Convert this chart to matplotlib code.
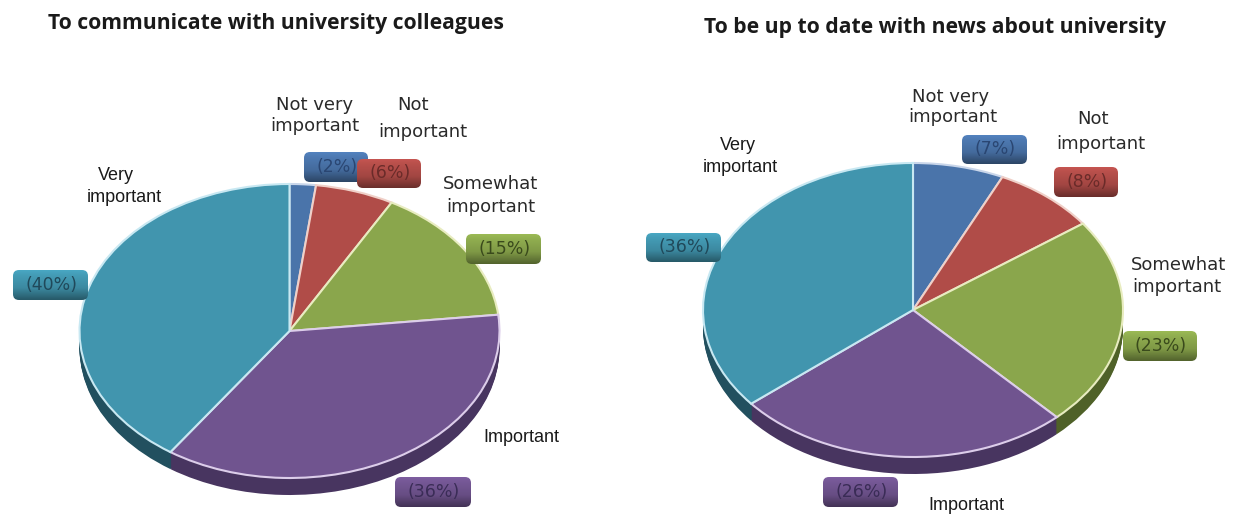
import matplotlib
matplotlib.use("Agg")
import matplotlib.pyplot as plt
import numpy as np
from matplotlib.colors import to_rgb
from matplotlib.patches import FancyBboxPatch

W, H = 1238, 515

# answers share: Not very important, Not important, Somewhat important, Important, Very important
colleagues = [2, 6, 15, 36, 40]
news = [7, 8, 23, 26, 36]
title_left = "To communicate with university colleagues"
title_right = "To be up to date with news about university"

top_colors = ["#4a74aa", "#b04c48", "#8aa64c", "#70548f", "#4195ae"]
rim_colors = ["#2d4a70", "#702e2c", "#4f6128", "#483560", "#22505f"]
edge_colors = ["#c9d6ea", "#f0d0c8", "#e8ecc0", "#dccdea", "#c8e8f2"]
pill_text = ["#2a4672", "#6a2b29", "#3a4a1c", "#3a2c56", "#20495a"]

RX, RY, DEPTH = 210, 147, 17


def px_axes(fig, x0, y0, x1, y1):
    return fig.add_axes([x0 / W, 1 - y1 / H, (x1 - x0) / W, (y1 - y0) / H])


def draw_pie(fig, values, cx, cy):
    ax = px_axes(fig, cx - RX - 2, cy - RY - 2, cx + RX + 2, cy + RY + DEPTH + 2)
    # the side of the disc is the same pie stacked downwards in dark shades
    for step in np.arange(DEPTH, 0, -1.0):
        ax.pie(values, colors=rim_colors, startangle=90, counterclock=False,
               center=(0, -step / RY), radius=1,
               wedgeprops={"linewidth": 0})
    wedges, _ = ax.pie(values, colors=top_colors, startangle=90, counterclock=False,
                       center=(0, 0), radius=1)
    for wedge, edge in zip(wedges, edge_colors):
        wedge.set_edgecolor(edge)
        wedge.set_linewidth(1.5)
    ax.set_aspect("auto")
    ax.set_xlim(-(RX + 2) / RX, (RX + 2) / RX)
    ax.set_ylim(-(RY + DEPTH + 2) / RY, (RY + 2) / RY)
    ax.axis("off")


def draw_pill(ax, x0, y0, x1, y1, color, text, text_color):
    base = np.array(to_rgb(color))
    # vertical shading, slightly lighter on top and dark along the bottom edge
    shade = np.interp(np.linspace(0, 1, 40), [0, 0.15, 0.6, 1], [1.12, 1.05, 0.92, 0.6])
    grad = np.clip(base[None, None, :] * shade[:, None, None], 0, 1)
    img = ax.imshow(grad, extent=(x0, x1, y1, y0), aspect="auto", zorder=3)
    pill = FancyBboxPatch((x0 + 5, y0 + 5), x1 - x0 - 10, y1 - y0 - 10,
                          boxstyle="round,pad=5,rounding_size=6",
                          facecolor="none", edgecolor="none",
                          transform=ax.transData, zorder=3)
    ax.add_patch(pill)
    img.set_clip_path(pill)
    ax.text((x0 + x1) / 2 + 1, (y0 + y1) / 2, text, ha="center", va="center",
            fontsize=12.5, color=text_color, zorder=4, family="DejaVu Sans")


fig = plt.figure(figsize=(W / 100, H / 100), dpi=100, facecolor="white")

draw_pie(fig, colleagues, 289.5, 331)
draw_pie(fig, news, 913, 310)

overlay = px_axes(fig, 0, 0, W, H)
overlay.set_zorder(5)
overlay.patch.set_alpha(0)

overlay.text(276, 24, title_left, ha="center", va="center", fontsize=15.2,
             fontweight="bold", family="Open Sans", color="#1a1a1a")
overlay.text(935, 28, title_right, ha="center", va="center", fontsize=15.2,
             fontweight="bold", family="Open Sans", color="#1a1a1a")

# pill boxes around the percentages, same order as the values
left_pills = [(304, 152, 368, 182), (357, 159, 421, 188), (466, 234, 541, 264),
              (395, 477, 471, 507), (13, 270, 88, 300)]
right_pills = [(962, 135, 1027, 164), (1054, 167, 1118, 197), (1123, 331, 1197, 361),
               (823, 477, 898, 507), (646, 233, 721, 262)]
for box, val, col, txt in zip(left_pills, colleagues, top_colors, pill_text):
    draw_pill(overlay, *box, col, f"({val}%)", txt)
for box, val, col, txt in zip(right_pills, news, top_colors, pill_text):
    draw_pill(overlay, *box, col, f"({val}%)", txt)

# category names, wide face and tight face
wide_labels = [
    (315, 105, "Not very"), (315, 126, "important"),
    (413, 105, "Not"), (423, 132, "important"),
    (491, 184, "Somewhat"), (491, 207, "important"),
    (951, 97, "Not very"), (953, 117, "important"),
    (1093, 119, "Not"), (1101, 144, "important"),
    (1179, 265, "Somewhat"), (1177, 287, "important"),
]
tight_labels = [
    (116, 175, "Very"), (124, 197, "important"), (521, 437, "Important"),
    (738, 145, "Very"), (740, 168, "important"), (966, 506, "Important"),
]
for x, y, s in wide_labels:
    overlay.text(x, y, s, ha="center", va="center", fontsize=13,
                 family="DejaVu Sans", color="#2a2a2a")
for x, y, s in tight_labels:
    overlay.text(x, y, s, ha="center", va="center", fontsize=13,
                 family="Liberation Sans", color="#1a1a1a")

overlay.set_xlim(0, W)
overlay.set_ylim(H, 0)
overlay.axis("off")

fig.savefig("out.png", dpi=100, facecolor="white")
plt.close(fig)
